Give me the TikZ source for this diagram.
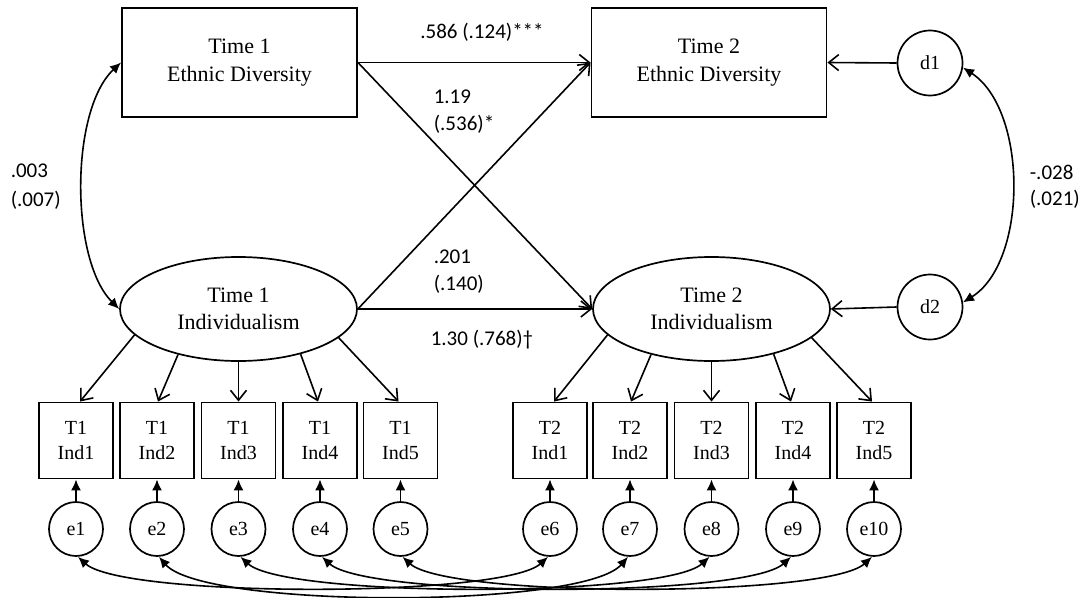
\documentclass[tikz,border=0pt]{standalone}
\usepackage{fontspec}
\setmainfont{Liberation Serif}
\newfontfamily\labfont{Carlito}
\usetikzlibrary{arrows.meta,shapes.geometric}
\begin{document}
\begin{tikzpicture}[x=1pt,y=-1pt,line width=1.6pt,
  bigbox/.style={draw,rectangle,line width=1.9pt,inner sep=0pt,minimum width=235pt,minimum height=109pt,align=center,font=\fontsize{22}{28}\selectfont},
  latent/.style={draw,ellipse,line width=1.7pt,inner sep=0pt,minimum width=237pt,minimum height=104pt,align=center,font=\fontsize{22}{27}\selectfont},
  dist/.style={draw,circle,line width=1.7pt,inner sep=0pt,minimum size=65pt,font=\fontsize{20}{24}\selectfont},
  indbox/.style={draw,rectangle,line width=1.9pt,inner sep=0pt,minimum width=74pt,minimum height=76pt,align=center,font=\fontsize{20}{25}\selectfont},
  errc/.style={draw,circle,line width=1.7pt,inner sep=0pt,minimum size=54pt,font=\fontsize{20}{24}\selectfont},
  openarr/.style={-{Straight Barb[length=10pt,width=16pt]}},
  fillarr/.style={-{Latex[length=11pt,width=10pt]}},
  botharr/.style={{Latex[length=11pt,width=10pt]}-{Latex[length=11pt,width=10pt]}},
  lab/.style={inner sep=0pt,align=left,font=\labfont\fontsize{21}{27}\selectfont}
]
\useasboundingbox (0,0) rectangle (1084,597);

% main nodes
\node[bigbox] (t1e) at (239.5,62.5) {Time 1\\Ethnic Diversity};
\node[bigbox] (t2e) at (709,62.5) {Time 2\\Ethnic Diversity};
\node[latent] (t1i) at (238.5,309) {Time 1\\Individualism};
\node[latent] (t2i) at (711.5,309) {Time 2\\Individualism};
\node[dist] (d1) at (930,63) {d1};
\node[dist] (d2) at (930,307) {d2};

% indicators and errors
\foreach \i/\x in {1/76,2/157,3/238.5,4/320,5/400.5} {
  \node[indbox] (a\i) at (\x,440.5) {T1\\Ind\i};
  \node[errc] (e\i) at (\x,529) {e\i};
  \draw[fillarr] (e\i.north) -- (a\i.south);
}
\foreach \i/\x/\n in {1/550/6,2/630/7,3/711.5/8,4/793/9,5/874/10} {
  \node[indbox] (b\i) at (\x,440.5) {T2\\Ind\i};
  \node[errc] (e\n) at (\x,529) {e\n};
  \draw[fillarr] (e\n.north) -- (b\i.south);
}

% loadings
\foreach \i/\ang/\dx in {1/194.6/4,2/217/1,3/270/0,4/324/-2,5/344.3/-2} {
  \draw[openarr] (t1i.\ang) -- ([xshift=\dx pt]a\i.north);
  \draw[openarr] (t2i.\ang) -- ([xshift=\dx pt]b\i.north);
}

% structural paths
\draw[openarr] (t1e.east) -- (t2e.west);
\draw[openarr] (t1e.east) -- (t2i.west);
\draw[openarr] (t1i.east) -- (t2e.west);
\draw[openarr] (t1i.east) -- (t2i.west);
\draw[openarr] (d1.west) -- (t2e.east);
\draw[openarr] (d2.west) -- (t2i.east);

% covariances
\draw[botharr] (t1e.west) .. controls (70,110) and (70,260) .. (t1i.west);
\draw[botharr] (d1.-8) .. controls (1028,110) and (1028,262) .. (d2.8);

\draw[botharr] ([xshift=2pt]e1.south) .. controls +(45,41) and +(-45,41) .. ([xshift=-2pt]e6.south);
\draw[botharr] ([xshift=2pt]e2.south) .. controls +(45,52) and +(-45,52) .. ([xshift=-2pt]e7.south);
\draw[botharr] ([xshift=2pt]e3.south) .. controls +(45,41) and +(-45,41) .. ([xshift=-2pt]e8.south);
\draw[botharr] ([xshift=2pt]e4.south) .. controls +(45,41) and +(-45,41) .. ([xshift=-2pt]e9.south);
\draw[botharr] ([xshift=2pt]e5.south) .. controls +(45,41) and +(-45,41) .. ([xshift=-2pt]e10.south);

% labels
\node[lab] (l1) at (482,32) {.586 (.124)***};
\node[lab,anchor=west] (l2) at (433,111.5) {1.19\\(.536)*};
\node[lab,anchor=west] (l3) at (433,271.5) {.201\\(.140)};
\node[lab,anchor=west] (l4) at (430,340) {1.30 (.768)†};
\node[lab,anchor=west,font=\labfont\fontsize{21}{29}\selectfont] (l5) at (10,187) {.003\\(.007)};
\node[lab,anchor=west,font=\labfont\fontsize{21}{26}\selectfont] (l6) at (1029,187) {-.028\\(.021)};
\end{tikzpicture}
\end{document}
